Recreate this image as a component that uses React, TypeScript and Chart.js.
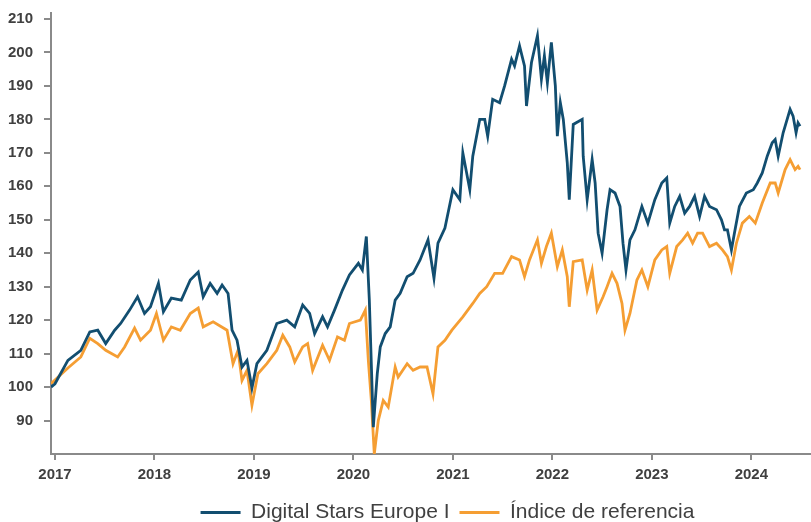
import React, { useEffect, useRef } from "react";
import { Chart, registerables } from "chart.js";

Chart.register(...registerables);

// Year ticks on the x axis
const yearTicks = [2017, 2018, 2019, 2020, 2021, 2022, 2023, 2024];
// Y axis tick labels
const valueTicks = [90, 100, 110, 120, 130, 140, 150, 160, 170, 180, 190, 200, 210];

const seriesNames = ["Digital Stars Europe I", "Índice de referencia"];

// Digital Stars Europe I (dates as decimal years)
const fundDates = [
  2016.96, 2017.00, 2017.13, 2017.26, 2017.35, 2017.43, 2017.51, 2017.60, 2017.66, 2017.75,
  2017.83, 2017.90, 2017.96, 2018.04, 2018.09, 2018.17, 2018.27, 2018.36, 2018.44, 2018.49,
  2018.56, 2018.63, 2018.68, 2018.74, 2018.78, 2018.83, 2018.88, 2018.93, 2018.98, 2019.03,
  2019.13, 2019.23, 2019.33, 2019.41, 2019.49, 2019.56, 2019.61, 2019.69, 2019.74, 2019.81,
  2019.89, 2019.96, 2020.05, 2020.09, 2020.13, 2020.16, 2020.20, 2020.24, 2020.27, 2020.32,
  2020.37, 2020.42, 2020.47, 2020.54, 2020.60, 2020.67, 2020.75, 2020.81, 2020.85, 2020.92,
  2021.00, 2021.07, 2021.10, 2021.17, 2021.20, 2021.27, 2021.32, 2021.35, 2021.40, 2021.47,
  2021.52, 2021.59, 2021.62, 2021.67, 2021.72, 2021.74, 2021.79, 2021.85, 2021.89, 2021.92,
  2021.95, 2021.99, 2022.03, 2022.05, 2022.08, 2022.11, 2022.15, 2022.17, 2022.21, 2022.30,
  2022.31, 2022.35, 2022.40, 2022.43, 2022.46, 2022.50, 2022.55, 2022.58, 2022.63, 2022.68,
  2022.71, 2022.74, 2022.78, 2022.83, 2022.90, 2022.96, 2023.03, 2023.10, 2023.15, 2023.18,
  2023.23, 2023.28, 2023.33, 2023.38, 2023.43, 2023.48, 2023.53, 2023.58, 2023.65, 2023.70,
  2023.73, 2023.76, 2023.80, 2023.83, 2023.88, 2023.95, 2024.02, 2024.06, 2024.11, 2024.16,
  2024.21, 2024.24, 2024.27, 2024.32, 2024.36, 2024.39, 2024.42, 2024.45, 2024.47, 2024.49,
];
const fundValues = [
  100, 101, 108, 111, 116.5, 117, 113, 117, 119, 123,
  127, 122, 124, 131, 122.5, 126.6, 126, 132, 134.4, 127,
  131, 128, 130.5, 128, 117, 114, 106, 108, 99.7, 107,
  111, 119, 120, 118, 124.5, 122, 116, 121, 118, 123,
  129, 133.5, 137, 135, 145, 126, 88, 104, 112, 116,
  118, 126, 128, 133, 134, 138, 144, 132.5, 143, 147.5,
  159, 156, 170, 159, 169, 180, 180, 175, 186, 185,
  190, 198, 196, 202, 196, 184, 197, 205, 192, 199,
  191, 203, 190, 175, 185, 180, 167, 156, 178.5, 180,
  169, 156, 168, 161, 146, 140, 153, 159, 158, 154,
  143, 135, 144, 147, 154, 149, 156, 161, 162.5, 149,
  154, 157, 152, 154, 157, 151, 157, 154, 153, 150,
  147, 147, 141, 146, 154, 158, 159, 161, 164, 169,
  173, 174, 169, 176, 180, 183, 181, 176, 179, 178,
];

// Índice de referencia
const indexDates = [
  2016.96, 2017.13, 2017.26, 2017.35, 2017.43, 2017.51, 2017.63, 2017.70, 2017.80, 2017.86,
  2017.96, 2018.02, 2018.09, 2018.17, 2018.26, 2018.36, 2018.44, 2018.49, 2018.59, 2018.73,
  2018.79, 2018.84, 2018.88, 2018.93, 2018.98, 2019.04, 2019.13, 2019.23, 2019.29, 2019.36,
  2019.41, 2019.49, 2019.54, 2019.59, 2019.69, 2019.76, 2019.84, 2019.91, 2019.96, 2020.07,
  2020.12, 2020.15, 2020.18, 2020.21, 2020.25, 2020.30, 2020.35, 2020.42, 2020.45, 2020.54,
  2020.60, 2020.67, 2020.74, 2020.80, 2020.85, 2020.92, 2020.99, 2021.10, 2021.20, 2021.27,
  2021.34, 2021.42, 2021.50, 2021.59, 2021.67, 2021.72, 2021.77, 2021.85, 2021.89, 2021.94,
  2021.99, 2022.05, 2022.10, 2022.15, 2022.17, 2022.21, 2022.30, 2022.35, 2022.40, 2022.45,
  2022.51, 2022.55, 2022.60, 2022.65, 2022.70, 2022.73, 2022.78, 2022.85, 2022.90, 2022.96,
  2023.03, 2023.10, 2023.15, 2023.18, 2023.25, 2023.31, 2023.36, 2023.41, 2023.46, 2023.51,
  2023.58, 2023.65, 2023.71, 2023.76, 2023.80, 2023.85, 2023.91, 2023.98, 2024.04, 2024.11,
  2024.19, 2024.24, 2024.27, 2024.34, 2024.39, 2024.44, 2024.47, 2024.49,
];
const indexValues = [
  101, 105.7, 109, 114.6, 113, 111, 109, 112, 117.6, 114,
  117, 122, 114, 118, 117, 122, 123.6, 118, 119.5, 117,
  107, 111, 102, 105, 94.6, 104, 107, 111, 115.5, 112,
  107.5, 112, 113, 105, 112.5, 108, 115, 114, 119, 120,
  123, 108, 96, 80, 90, 96, 94, 106, 103, 107,
  105, 106, 106, 98, 112, 114, 117, 121, 125, 128,
  130, 134, 134, 139, 138, 133, 138, 144, 137, 142,
  146, 136, 141, 133, 124, 137.5, 138, 129, 135, 123,
  127, 130, 134, 131, 125, 117, 122, 132, 135, 130,
  138, 141, 142, 134, 142, 144, 146, 143, 146, 146,
  142, 143, 141, 139, 135, 143, 149, 151, 149, 155,
  161, 161, 158, 165, 168, 165, 166, 165,
];

const BLUE = "#124e70";
const ORANGE = "#f59e33";
const AXIS = "#8a8a8a";
const TEXT = "#404040";
const FONT = "'Liberation Sans', Arial, sans-serif";

const legendShift = {
  id: "legendShift",
  afterLayout(chart: any) {
    const l = chart.legend;
    if (l) {
      l.left += 42;
      l.right += 42;
      l.top += 2;
      l.bottom += 2;
    }
  },
};

export default function App() {
  const ref = useRef<HTMLCanvasElement | null>(null);

  useEffect(() => {
    document.body.style.margin = "0";
    const canvas = ref.current;
    if (!canvas) return;
    const chart = new Chart(canvas, {
      type: "line",
      data: {
        datasets: [
          {
            label: seriesNames[0],
            data: fundDates.map((d, i) => ({ x: d, y: fundValues[i] })),
            borderColor: BLUE,
            backgroundColor: BLUE,
            borderWidth: 2.8,
            pointRadius: 0,
            tension: 0,
          },
          {
            label: seriesNames[1],
            data: indexDates.map((d, i) => ({ x: d, y: indexValues[i] })),
            borderColor: ORANGE,
            backgroundColor: ORANGE,
            borderWidth: 2.8,
            pointRadius: 0,
            tension: 0,
          },
        ],
      },
      options: {
        responsive: false,
        animation: false,
        devicePixelRatio: 1,
        layout: { padding: { top: 13, left: 0, right: 0, bottom: -9 } },
        plugins: {
          tooltip: { enabled: false },
          legend: {
            position: "bottom",
            labels: {
              usePointStyle: true,
              pointStyle: "line",
              pointStyleWidth: 40,
              padding: 10,
              color: TEXT,
              font: { family: FONT, size: 21 },
            },
          },
        },
        scales: {
          x: {
            type: "linear",
            min: 2016.96,
            max: 2024.6,
            afterBuildTicks: (scale: any) => {
              scale.ticks = yearTicks.map((v) => ({ value: v }));
            },
            ticks: {
              autoSkip: false,
              maxRotation: 0,
              padding: 6,
              color: TEXT,
              font: { family: FONT, size: 15, weight: "bold" },
              callback: (v: any) => String(v),
            },
            grid: {
              drawOnChartArea: false,
              drawTicks: true,
              tickLength: 6,
              color: AXIS,
              lineWidth: 2,
            },
            border: { display: true, color: AXIS, width: 2 },
          },
          y: {
            type: "linear",
            min: 80,
            max: 211.8,
            afterBuildTicks: (scale: any) => {
              scale.ticks = valueTicks.map((v) => ({ value: v }));
            },
            afterFit: (scale: any) => {
              scale.width = 51;
              scale.paddingTop = 0;
              scale.paddingBottom = 0;
            },
            ticks: {
              autoSkip: false,
              padding: 11,
              color: TEXT,
              font: { family: FONT, size: 15, weight: "bold" },
              callback: (v: any) => String(v),
            },
            grid: {
              drawOnChartArea: false,
              drawTicks: true,
              tickLength: 7,
              color: AXIS,
              lineWidth: 2,
            },
            border: { display: true, color: AXIS, width: 2 },
          },
        },
      },
      plugins: [legendShift],
    });
    return () => chart.destroy();
  }, []);

  return (
    <div style={{ width: 811, height: 522 }}>
      <canvas ref={ref} width={811} height={522} />
    </div>
  );
}
